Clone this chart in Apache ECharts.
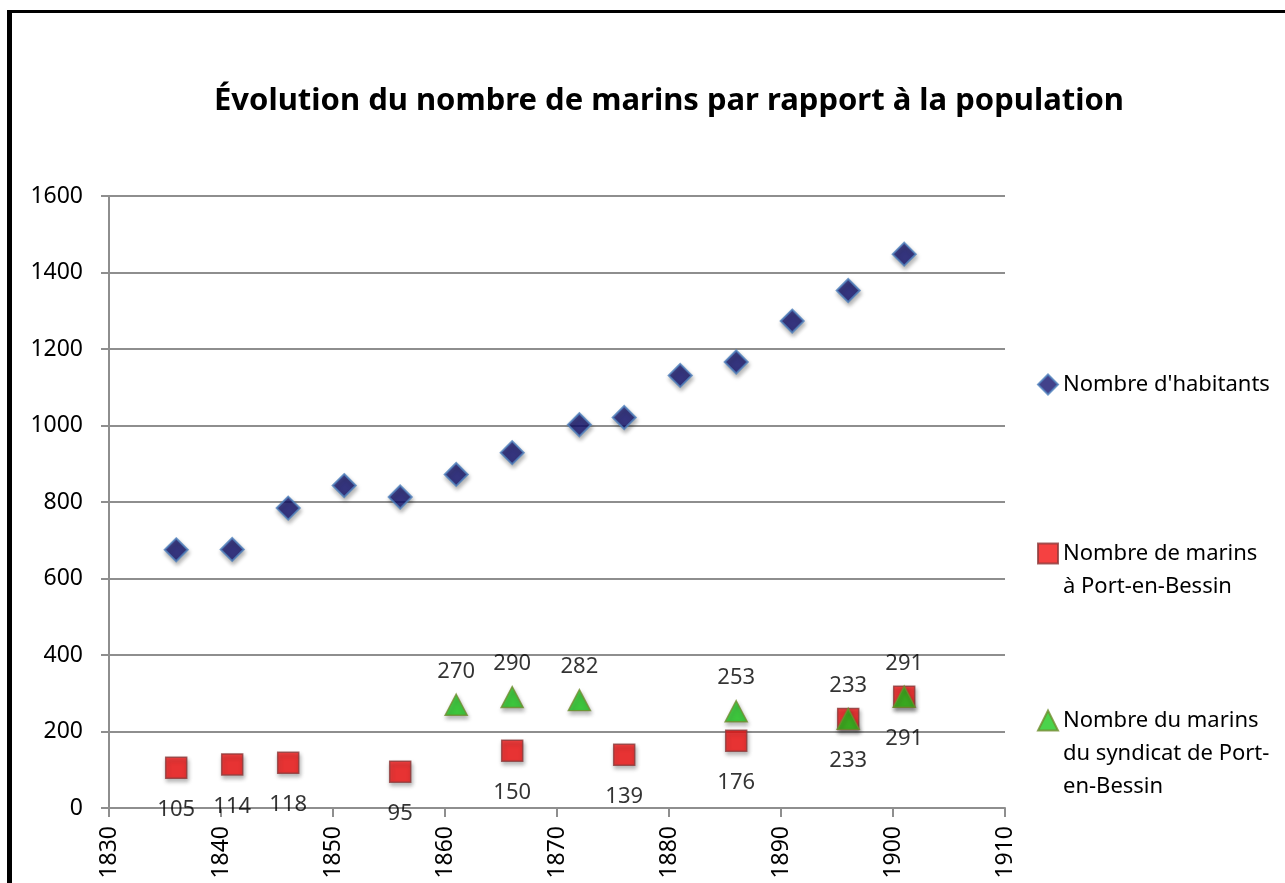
<!DOCTYPE html>
<html>
<head>
<meta charset="utf-8">
<title>Évolution du nombre de marins</title>
<script src="https://cdn.jsdelivr.net/npm/echarts@6/dist/echarts.min.js"></script>
<style>
  html, body { margin: 0; padding: 0; background: #fff; }
  #chart { width: 1285px; height: 883px; }
</style>
</head>
<body>
<div id="chart"></div>
<script>
// population (Nombre d'habitants)
const habYears = [1836, 1841, 1846, 1851, 1856, 1861, 1866, 1872, 1876, 1881, 1886, 1891, 1896, 1901]
const habValues = [675, 676, 784, 843, 813, 872, 929, 1002, 1021, 1131, 1166, 1273, 1353, 1448]

// marins à Port-en-Bessin
const marinsYears = [1836, 1841, 1846, 1856, 1866, 1876, 1886, 1896, 1901]
const marinsValues = [105, 114, 118, 95, 150, 139, 176, 233, 291]

// marins du syndicat
const syndYears = [1861, 1866, 1872, 1886, 1896, 1901]
const syndValues = [270, 290, 282, 253, 233, 291]

const names = ["Nombre d'habitants", 'Nombre de marins à Port-en-Bessin', 'Nombre du marins du syndicat de Port-en-Bessin']
// blank lines in front keep the icon level with the first line of text
const legendText = [
    "Nombre d'habitants",
    ' \nNombre de marins\nà Port-en-Bessin',
    ' \n \nNombre du marins\ndu syndicat de Port-\nen-Bessin'
]

const pairs = (xs, ys) => xs.map((x, i) => [x, ys[i]])

const font = "'Noto Sans', 'Open Sans', sans-serif"
const gray = '#8e8e8e'
const shadow = { shadowBlur: 4, shadowColor: 'rgba(0,0,0,0.35)', shadowOffsetX: 1, shadowOffsetY: 3 }

const legendBase = {
    orient: 'vertical',
    left: 1032,
    itemWidth: 20,
    itemHeight: 20,
    textStyle: { fontFamily: font, fontSize: 22, color: '#000', lineHeight: 33 },
    formatter: name => legendText[names.indexOf(name)],
    selectedMode: false
}

const option = {
    animation: false,
    backgroundColor: '#fff',
    textStyle: { fontFamily: font },
    title: {
        text: 'Évolution du nombre de marins par rapport à la population',
        left: 664,
        top: 81,
        textAlign: 'center',
        textStyle: { fontFamily: font, fontSize: 31, fontWeight: 'bold', color: '#000' }
    },
    legend: [
        Object.assign({}, legendBase, { top: 363, data: [names[0]] }),
        Object.assign({}, legendBase, { top: 499, data: [names[1]] }),
        Object.assign({}, legendBase, { top: 633, data: [names[2]] })
    ],
    graphic: [
        { type: 'rect', shape: { x: 7, y: 10, width: 1280, height: 3 }, style: { fill: '#000' } },
        { type: 'rect', shape: { x: 7, y: 10, width: 5, height: 880 }, style: { fill: '#000' } }
    ],
    grid: { left: 109, right: 280, top: 196, bottom: 75 },
    xAxis: {
        type: 'value',
        min: 1830,
        max: 1910,
        interval: 10,
        axisLine: { show: true, lineStyle: { color: gray, width: 2 } },
        axisTick: { show: true, length: 9, lineStyle: { color: gray, width: 2 } },
        splitLine: { show: false },
        axisLabel: { rotate: 90, margin: 18, fontFamily: font, fontSize: 23, color: '#000', formatter: v => String(v) }
    },
    yAxis: {
        type: 'value',
        min: 0,
        max: 1600,
        interval: 200,
        axisLine: { show: true, lineStyle: { color: gray, width: 2 } },
        axisTick: { show: true, length: 8, lineStyle: { color: gray, width: 2 } },
        splitLine: { show: true, lineStyle: { color: gray, width: 2 } },
        axisLabel: { margin: 26, fontFamily: font, fontSize: 23, color: '#000', formatter: v => String(v) }
    },
    series: [
        {
            name: names[0],
            type: 'scatter',
            symbol: 'diamond',
            symbolSize: 23,
            itemStyle: Object.assign({ color: '#13136e', borderColor: '#4f81bd', borderWidth: 2 }, shadow),
            data: pairs(habYears, habValues)
        },
        {
            name: names[1],
            type: 'scatter',
            symbol: 'rect',
            symbolSize: 21,
            itemStyle: Object.assign({ color: '#f21212', borderColor: '#8c3a3a', borderWidth: 1.5 }, shadow),
            label: {
                show: true,
                position: 'bottom',
                distance: 20,
                fontFamily: font,
                fontSize: 22,
                color: '#000',
                formatter: p => p.value[1]
            },
            data: pairs(marinsYears, marinsValues)
        },
        {
            name: names[2],
            type: 'scatter',
            symbol: 'triangle',
            symbolSize: [22, 21],
            itemStyle: Object.assign({ color: '#1ec81e', borderColor: '#6f8c2e', borderWidth: 1.5 }, shadow),
            label: {
                show: true,
                position: 'top',
                distance: 11,
                fontFamily: font,
                fontSize: 22,
                color: '#000',
                formatter: p => p.value[1]
            },
            data: pairs(syndYears, syndValues)
        }
    ]
}

const chart = echarts.init(document.getElementById('chart'))
chart.setOption(option)
</script>
</body>
</html>
